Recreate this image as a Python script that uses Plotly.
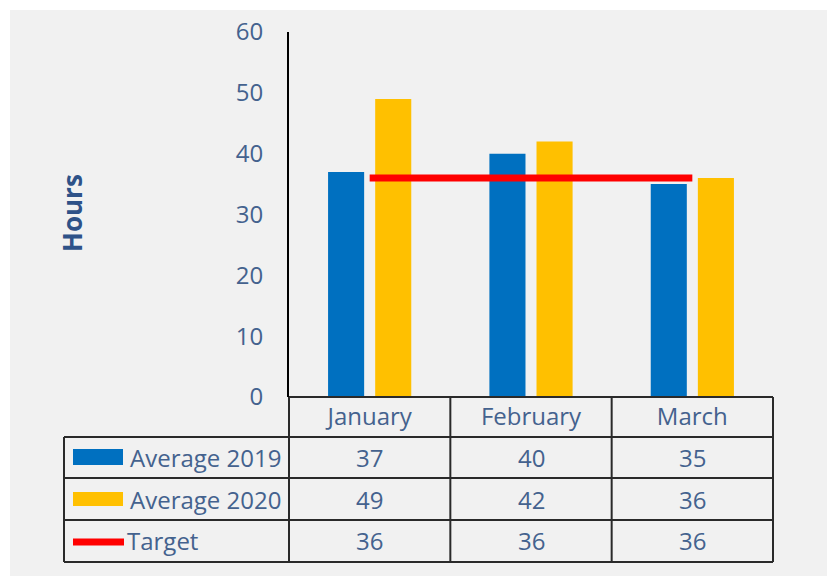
import plotly.graph_objects as go

W, H = 835, 576

months = ["January", "February", "March"]
avg_2019 = [37, 40, 35]
avg_2020 = [49, 42, 36]
target = [36, 36, 36]
series_names = ["Average 2019", "Average 2020", "Target"]
y_ticks = [0, 10, 20, 30, 40, 50, 60]

BLUE = "#0070C0"
YELLOW = "#FFC000"
RED = "#FF0000"
TXT = "#44628E"
GRID = "#2A2A2A"
FONT = "Open Sans"
OFF = 8  # page body margin


def px(x):
    return (x - OFF) / W


def py(y):
    return 1 - (y - OFF) / H


fig = go.Figure()
fig.add_trace(go.Bar(x=months, y=avg_2019, name=series_names[0], marker_color=BLUE,
                     marker_line_width=0))
fig.add_trace(go.Bar(x=months, y=avg_2020, name=series_names[1], marker_color=YELLOW,
                     marker_line_width=0))
fig.add_trace(go.Scatter(x=months, y=target, name=series_names[2], mode="lines",
                         line=dict(color=RED, width=7)))

shapes = []
# background panel
shapes.append(dict(type="rect", xref="paper", yref="paper", x0=px(10), x1=1, y0=0, y1=py(10),
                   fillcolor="#F1F1F1", line_width=0, layer="below"))


def hline(y, x0, x1):
    shapes.append(dict(type="line", xref="paper", yref="paper", x0=px(x0), x1=px(x1),
                       y0=py(y), y1=py(y), line=dict(color=GRID, width=2)))


def vline(x, y0, y1, xref="paper"):
    xv = px(x) if xref == "paper" else x
    shapes.append(dict(type="line", xref=xref, yref="paper", x0=xv, x1=xv,
                       y0=py(y0), y1=py(y1), line=dict(color=GRID, width=2)))


hline(397, 289, 773)
for yy in (437, 478, 520, 562):
    hline(yy, 64, 773)
vline(64, 437, 562)
vline(289, 397, 562)
for b in (0.5, 1.5):
    vline(b, 397, 562, xref="x")
vline(773, 397, 562)

# legend keys inside the table
shapes.append(dict(type="rect", xref="paper", yref="paper", x0=px(73), x1=px(123),
                   y0=py(465), y1=py(449), fillcolor=BLUE, line_width=0))
shapes.append(dict(type="rect", xref="paper", yref="paper", x0=px(73), x1=px(123),
                   y0=py(506), y1=py(492), fillcolor=YELLOW, line_width=0))
shapes.append(dict(type="line", xref="paper", yref="paper", x0=px(73), x1=px(124),
                   y0=py(542), y1=py(542), line=dict(color=RED, width=7)))

annotations = []
row_centers = [457.5, 499, 540]
label_x = [128, 128, 125]
for name, yc, lx in zip(series_names, row_centers, label_x):
    annotations.append(dict(xref="paper", yref="paper", x=px(lx), y=py(yc), text=name,
                            showarrow=False, xanchor="left", yanchor="middle",
                            font=dict(family=FONT, size=24, color=TXT)))
for vals, yc in zip([avg_2019, avg_2020, target], row_centers):
    for m, v in zip(months, vals):
        annotations.append(dict(xref="x", yref="paper", x=m, y=py(yc), text=str(v),
                                showarrow=False, xanchor="center", yanchor="middle",
                                font=dict(family=FONT, size=24, color=TXT)))
annotations.append(dict(xref="paper", yref="paper", x=px(72), y=py(213), text="<b>Hours</b>",
                        textangle=-90, showarrow=False, xanchor="center", yanchor="middle",
                        font=dict(family=FONT, size=26, color="#2E5288")))

fig.update_layout(
    width=W, height=H,
    margin=dict(l=0, r=0, t=0, b=0, autoexpand=False),
    paper_bgcolor="white",
    plot_bgcolor="rgba(0,0,0,0)",
    showlegend=False,
    barmode="group",
    bargap=0.416,
    bargroupgap=0.234,
    shapes=shapes,
    annotations=annotations,
    font=dict(family=FONT, color=TXT),
)
fig.update_xaxes(domain=[px(289), px(773)], range=[-0.5, 2.5], showgrid=False,
                 zeroline=False, showline=False, ticks="", automargin=False,
                 tickfont=dict(family=FONT, size=24, color=TXT), ticklabelstandoff=3)
fig.update_yaxes(domain=[py(397), py(32)], range=[0, 60], tickvals=y_ticks,
                 showgrid=False, zeroline=False, showline=True, linecolor="black",
                 linewidth=2, ticks="", ticklabelstandoff=19, automargin=False,
                 tickfont=dict(family=FONT, size=24, color=TXT))

fig.write_html("out.html")
